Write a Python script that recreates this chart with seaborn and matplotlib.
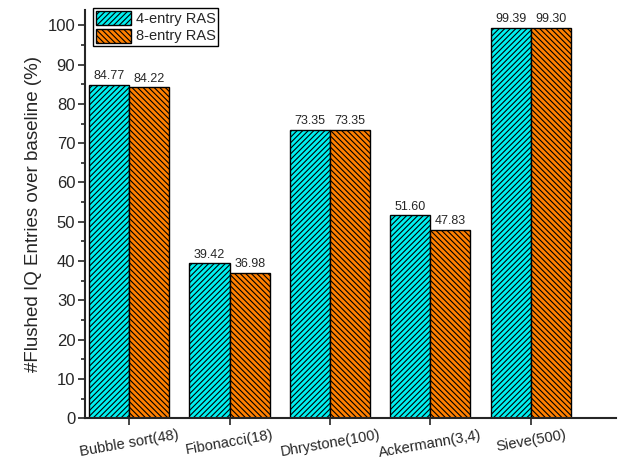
import matplotlib
matplotlib.use("Agg")
import matplotlib.pyplot as plt
import seaborn as sns
import pandas as pd
from matplotlib.ticker import MultipleLocator
from matplotlib.patches import Patch

categories = ["Bubble sort(48)", "Fibonacci(18)", "Dhrystone(100)", "Ackermann(3,4)", "Sieve(500)"]
ras4 = [84.77, 39.42, 73.35, 51.60, 99.39]
ras8 = [84.22, 36.98, 73.35, 47.83, 99.30]
series = ["4-entry RAS", "8-entry RAS"]

df = pd.DataFrame({
    "Benchmark": categories * 2,
    "Value": ras4 + ras8,
    "Config": [series[0]] * len(categories) + [series[1]] * len(categories),
})

sns.set_style("ticks")
plt.rcParams['font.family'] = ['Liberation Sans', 'DejaVu Sans']
plt.rcParams['hatch.linewidth'] = 0.8

fig = plt.figure(figsize=(6.21, 4.59), dpi=100)
ax = fig.add_axes([0.137, 0.089, 0.855, 0.89])

colors = ["#00F0F0", "#FF8000"]
sns.barplot(data=df, x="Benchmark", y="Value", hue="Config", palette=colors,
            width=0.8, saturation=1, ax=ax, legend=False)

hatches = ["//////", "\\\\\\\\\\\\"]
for i, cont in enumerate(ax.containers):
    for bar in cont:
        bar.set_hatch(hatches[i])
        bar.set_edgecolor("black")
        bar.set_linewidth(1.0)
    ax.bar_label(cont, labels=[f"{v:.2f}" for v in cont.datavalues], padding=2, fontsize=9)

ax.set_ylim(0, 104)
ax.set_xlim(-0.44, 4.85)
ax.yaxis.set_major_locator(MultipleLocator(10))
ax.yaxis.set_minor_locator(MultipleLocator(5))
ax.tick_params(axis='y', which='major', length=5, width=1.2, labelsize=12, pad=2)
ax.tick_params(axis='y', which='minor', length=3, width=1.2)
ax.tick_params(axis='x', length=5, width=1.2, labelsize=10.5, pad=2)
for lab in ax.get_xticklabels():
    lab.set_rotation(10)
    lab.set_ha('center')
ax.set_xlabel("")
ax.set_ylabel("#Flushed IQ Entries over baseline (%)", fontsize=13.5, labelpad=4)
for s in ["top", "right"]:
    ax.spines[s].set_visible(False)
for s in ["left", "bottom"]:
    ax.spines[s].set_linewidth(1.5)

handles = [Patch(facecolor=colors[i], edgecolor="black", hatch=hatches[i], linewidth=1.0)
           for i in range(2)]
leg = ax.legend(handles, series, loc="upper left", bbox_to_anchor=(0.01, 1.01), fontsize=10.5,
                frameon=True, fancybox=False, edgecolor="black", framealpha=1,
                borderpad=0.2, handlelength=2.4, handleheight=1.1, labelspacing=0.15,
                handletextpad=0.3, borderaxespad=0.2)
leg.get_frame().set_linewidth(1.0)

fig.savefig("out.png", dpi=100)
